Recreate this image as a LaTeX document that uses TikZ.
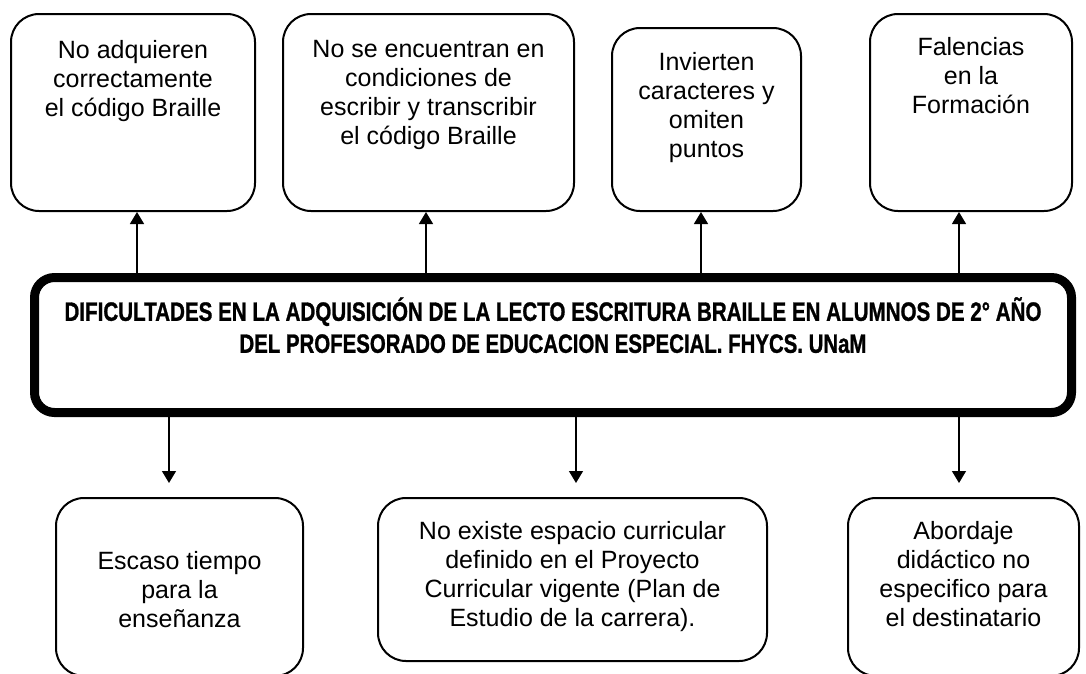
\documentclass[tikz,border=0pt]{standalone}
\usepackage{fontspec}
\usepackage{graphicx}
\setmainfont{Liberation Sans}
\newfontfamily\ctrfont[FakeBold=1.2]{Liberation Sans Bold}
\usetikzlibrary{arrows.meta}
\tikzset{
  tbox/.style={draw, line width=2pt, rounded corners=28pt, inner sep=0pt},
  ctrbox/.style={draw, line width=9pt, rounded corners=20pt, inner sep=0pt},
  txt/.style={align=center, inner sep=0pt, anchor=north, font=\fontsize{25}{29}\selectfont},
  ctrtxt/.style={align=center, inner sep=0pt, anchor=north, font=\ctrfont\fontsize{26.5}{32}\selectfont},
  arr/.style={line width=1.3pt, -{Triangle[width=14pt,length=12pt]}},
}
\begin{document}
\begin{tikzpicture}[x=1pt,y=-1pt]
\useasboundingbox (0,0) rectangle (1086,673);
% top boxes
\node[tbox, minimum width=244pt, minimum height=197pt] (t1) at (133,112.5) {};
\node[tbox, minimum width=291pt, minimum height=197pt] (t2) at (428.5,112.5) {};
\node[tbox, minimum width=189pt, minimum height=183pt] (t3) at (706.5,119.5) {};
\node[tbox, minimum width=202pt, minimum height=197pt] (t4) at (971,112.5) {};
\node[txt] (t1t) at (133,40) {No adquieren\\correctamente\\el código Braille};
\node[txt] (t2t) at (428.5,40) {No se encuentran en\\condiciones de\\escribir y transcribir\\el código Braille};
\node[txt] (t3t) at (706.5,52) {Invierten\\caracteres y\\omiten\\puntos};
\node[txt] (t4t) at (971,37) {Falencias\\en la\\Formación};
% central box
\node[ctrbox, minimum width=1037pt, minimum height=135pt] (ctr) at (553,345) {};
\node[ctrtxt] (ctrt) at (553,297) {\resizebox{977pt}{\height}{DIFICULTADES EN LA ADQUISICIÓN DE LA LECTO ESCRITURA BRAILLE EN ALUMNOS DE 2° AÑO}\\\resizebox{627pt}{\height}{DEL PROFESORADO DE EDUCACION ESPECIAL. FHYCS. UNaM}};
% bottom boxes
\node[tbox, minimum width=247pt, minimum height=178pt] (b1) at (179.5,587) {};
\node[tbox, minimum width=389pt, minimum height=163pt] (b2) at (572.5,579.5) {};
\node[tbox, minimum width=231pt, minimum height=178pt] (b3) at (963.5,587) {};
\node[txt] (b1t) at (179.5,551) {Escaso tiempo\\para la\\enseñanza};
\node[txt] (b2t) at (572.5,521) {No existe espacio curricular\\definido en el Proyecto\\Curricular vigente (Plan de\\Estudio de la carrera).};
\node[txt] (b3t) at (963.5,521) {Abordaje\\didáctico no\\especifico para\\el destinatario};
% arrow positions
\coordinate (u1) at (137,0);
\coordinate (u2) at (426,0);
\coordinate (u3) at (701,0);
\coordinate (u4) at (959,0);
\coordinate (d1) at (169,0);
\coordinate (d2) at (576,0);
\coordinate (d3) at (959,0);
\draw[arr] (u1 |- ctr.north) -- (u1 |- t1.south);
\draw[arr] (u2 |- ctr.north) -- (u2 |- t2.south);
\draw[arr] (u3 |- ctr.north) -- (u3 |- t3.south);
\draw[arr] (u4 |- ctr.north) -- (u4 |- t4.south);
\draw[arr, shorten >=14pt] (d1 |- ctr.south) -- (d1 |- b1.north);
\draw[arr, shorten >=14pt] (d2 |- ctr.south) -- (d2 |- b2.north);
\draw[arr, shorten >=14pt] (d3 |- ctr.south) -- (d3 |- b3.north);
\end{tikzpicture}
\end{document}
